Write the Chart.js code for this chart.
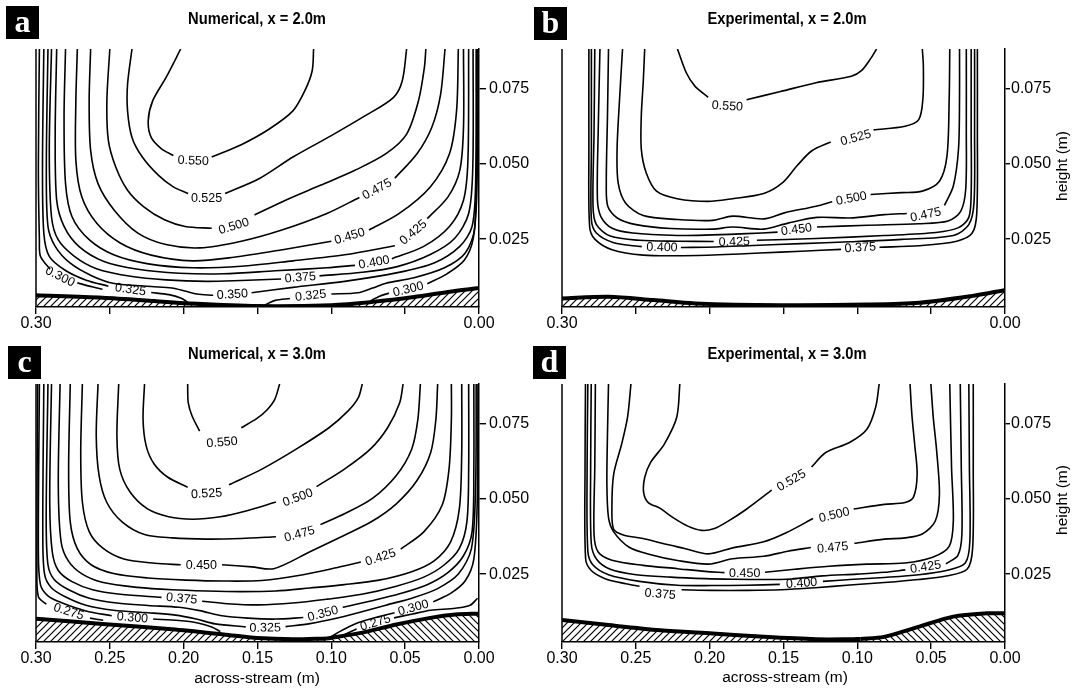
<!DOCTYPE html>
<html lang="en">
<head>
<meta charset="UTF-8">
<title>Streamwise velocity contours</title>
<script src="https://cdn.jsdelivr.net/npm/chart.js"></script>
<style>
  body { margin: 0; background: #fff; }
  #page { position: relative; width: 1081px; height: 691px; overflow: hidden; font-family: "Liberation Sans", Arial, Helvetica, sans-serif; color: #000; }
  canvas { position: absolute; }
  .tag { position: absolute; width: 33px; height: 33px; background: #000; color: #fff; font: bold 32px "Liberation Serif", "Times New Roman", serif; text-align: center; line-height: 31px; }
  .ttl { position: absolute; width: 320px; text-align: center; font-weight: bold; font-size: 16px; line-height: 18px; transform: scaleX(0.92); }
  .xt { position: absolute; width: 240px; text-align: center; font-size: 15.5px; line-height: 18px; }
  .yt { position: absolute; font-size: 15.5px; line-height: 18px; white-space: nowrap; transform: translate(-50%, -50%) rotate(-90deg); }
</style>
</head>
<body>
<div id="page">
  <canvas id="pa" width="540" height="345" style="left:0;top:0"></canvas>
  <canvas id="pb" width="541" height="345" style="left:540px;top:0"></canvas>
  <canvas id="pc" width="540" height="356" style="left:0;top:335px"></canvas>
  <canvas id="pd" width="541" height="356" style="left:540px;top:335px"></canvas>

  <div class="tag" style="left:6px;top:6px">a</div>
  <div class="tag" style="left:534px;top:7px">b</div>
  <div class="tag" style="left:8px;top:346px">c</div>
  <div class="tag" style="left:533px;top:346px">d</div>

  <div class="ttl" style="left:97px;top:10px">Numerical, x = 2.0m</div>
  <div class="ttl" style="left:627px;top:10px">Experimental, x = 2.0m</div>
  <div class="ttl" style="left:97px;top:345px">Numerical, x = 3.0m</div>
  <div class="ttl" style="left:627px;top:345px">Experimental, x = 3.0m</div>

  <div class="xt" style="left:137px;top:669px">across-stream (m)</div>
  <div class="xt" style="left:665px;top:668px">across-stream (m)</div>
  <div class="yt" style="left:1062px;top:166px">height (m)</div>
  <div class="yt" style="left:1062px;top:500px">height (m)</div>
</div>

<script>
const FONT = '"Liberation Sans", Arial, Helvetica, sans-serif';
const L = 'label';   // marks where a contour is broken for its value label

const xTicks = [0, 0.05, 0.10, 0.15, 0.20, 0.25, 0.30];
const yTicks = [0.025, 0.050, 0.075];
const yRange = [0.0025, 0.088];

// contour lines: [level, [[across, height], ...]] in metres
const numX2 = [
  ['0.550', [[0.202,0.088],[0.212,0.0785],[0.221,0.0708],[0.224,0.0642],[0.222,0.0587],[0.215,0.0549],[0.207,0.0527],[0.1935,0.0509,L],[0.181,0.0522],[0.161,0.0563],[0.142,0.0615],[0.126,0.0675],[0.118,0.0741],[0.113,0.0807],[0.112,0.088]]],
  ['0.525', [[0.235,0.088],[0.238,0.0763],[0.238,0.0675],[0.235,0.0587],[0.228,0.0522],[0.217,0.0461],[0.207,0.0423],[0.197,0.0401],[0.1845,0.0385,L],[0.172,0.0401],[0.149,0.045],[0.126,0.0522],[0.100,0.0593],[0.077,0.0659],[0.058,0.0719],[0.052,0.0774],[0.049,0.088]]],
  ['0.500', [[0.250,0.088],[0.252,0.0708],[0.251,0.0577],[0.246,0.0489],[0.238,0.0412],[0.227,0.0357],[0.213,0.0314],[0.199,0.0292],[0.181,0.0286],[0.166,0.0292,L],[0.152,0.033],[0.131,0.0379],[0.107,0.0429],[0.084,0.0478],[0.063,0.0533],[0.049,0.0598],[0.041,0.0708],[0.037,0.0818],[0.036,0.088]]],
  ['0.475', [[0.263,0.088],[0.264,0.0708],[0.263,0.0544],[0.258,0.0434],[0.247,0.0346],[0.231,0.027],[0.212,0.0232],[0.189,0.0221],[0.161,0.0243],[0.133,0.0281],[0.103,0.0335],[0.081,0.0388],[0.069,0.0415,L],[0.057,0.0452],[0.042,0.0533],[0.032,0.062],[0.026,0.073],[0.023,0.088]]],
  ['0.450', [[0.272,0.088],[0.273,0.0708],[0.273,0.0511],[0.269,0.039],[0.259,0.0303],[0.243,0.0237],[0.222,0.0197],[0.194,0.0178],[0.166,0.019],[0.133,0.0215],[0.100,0.0243],[0.0876,0.0259,L],[0.0745,0.028],[0.054,0.0335],[0.033,0.0423],[0.020,0.0533],[0.0152,0.0675],[0.014,0.088]]],
  ['0.425', [[0.280,0.088],[0.281,0.0653],[0.280,0.0434],[0.2756,0.0324],[0.264,0.0248],[0.247,0.0197],[0.224,0.0168],[0.194,0.0155],[0.161,0.016],[0.126,0.0178],[0.091,0.0198],[0.057,0.0228],[0.0444,0.0272,L],[0.035,0.0318],[0.021,0.039],[0.013,0.0478],[0.0105,0.062],[0.0105,0.088]]],
  ['0.400', [[0.286,0.088],[0.287,0.0598],[0.286,0.0379],[0.281,0.0292],[0.271,0.0226],[0.254,0.0176],[0.231,0.015],[0.203,0.0137],[0.173,0.0135],[0.138,0.0145],[0.103,0.0155],[0.084,0.0163],[0.071,0.0172,L],[0.059,0.0185],[0.0374,0.0226],[0.020,0.0292],[0.0105,0.0379],[0.0075,0.0511],[0.007,0.088]]],
  ['0.375', [[0.2895,0.088],[0.291,0.0544],[0.2895,0.0324],[0.285,0.0248],[0.274,0.0193],[0.259,0.0152],[0.236,0.0127],[0.212,0.0115],[0.1845,0.011],[0.161,0.0113],[0.134,0.0118],[0.121,0.0122,L],[0.108,0.0128],[0.079,0.014],[0.056,0.0158],[0.033,0.0199],[0.0164,0.0253],[0.007,0.0335],[0.0042,0.0489],[0.004,0.088]]],
  ['0.350', [[0.2919,0.088],[0.293,0.0489],[0.2919,0.0292],[0.287,0.0226],[0.277,0.0171],[0.262,0.0128],[0.247,0.0103],[0.222,0.0093],[0.208,0.0088],[0.199,0.0078],[0.191,0.0068],[0.180,0.0064],[0.167,0.0066,L],[0.154,0.0072],[0.126,0.009],[0.091,0.011],[0.056,0.0138],[0.0304,0.0171],[0.013,0.0226],[0.0047,0.0292],[0.0023,0.0434],[0.0019,0.088]]],
  ['0.325', [[0.2947,0.088],[0.2956,0.0489],[0.2947,0.027],[0.291,0.0193],[0.280,0.0146],[0.266,0.0114],[0.251,0.0094],[0.236,0.0082,L],[0.222,0.0073],[0.210,0.0066],[0.202,0.0055],[0.197,0.004]]],
  ['0.325', [[0.145,0.0032],[0.138,0.0047],[0.128,0.0053],[0.114,0.0062,L],[0.100,0.0068],[0.082,0.0072],[0.072,0.0088],[0.063,0.0104],[0.044,0.0122],[0.0234,0.0155],[0.0093,0.0204],[0.0028,0.0292],[0.0012,0.088]]],
  ['0.300', [[0.2977,0.088],[0.2984,0.0489],[0.2977,0.0248],[0.297,0.0193],[0.2905,0.015],[0.2837,0.0125,L],[0.272,0.0105],[0.262,0.0092],[0.255,0.0084]]],
  ['0.300', [[0.0736,0.0045],[0.0677,0.006],[0.061,0.0071],[0.0479,0.0083,L],[0.035,0.0102],[0.0217,0.0135],[0.010,0.018],[0.004,0.025],[0.0015,0.04],[0.0005,0.088]]]
];
const bedA = [[0.300,0.0064],[0.255,0.0056],[0.220,0.0045],[0.197,0.0037],[0.150,0.0028],[0.100,0.0031],[0.072,0.0042],[0.044,0.0058],[0.021,0.0075],[0,0.0088]];

const expX2 = [
  ['0.550', [[0.2218,0.088],[0.216,0.0803],[0.210,0.0757],[0.201,0.072],[0.188,0.069,L],[0.175,0.0712],[0.152,0.0739],[0.128,0.0768],[0.104,0.079],[0.097,0.0809],[0.091,0.0848],[0.087,0.088]]],
  ['0.525', [[0.244,0.088],[0.245,0.077],[0.2463,0.0659],[0.2463,0.0548],[0.243,0.047],[0.236,0.0409],[0.222,0.0384],[0.201,0.0375],[0.1845,0.0384],[0.1634,0.0401],[0.1506,0.0437],[0.141,0.0492],[0.131,0.0542],[0.118,0.0572],[0.101,0.0585,L],[0.089,0.0612],[0.0677,0.0624],[0.0584,0.0646],[0.0556,0.0715],[0.0553,0.0826],[0.056,0.088]]],
  ['0.500', [[0.259,0.088],[0.261,0.0715],[0.2627,0.0548],[0.262,0.0437],[0.257,0.037],[0.245,0.0328],[0.2218,0.0315],[0.198,0.0312],[0.1845,0.0326],[0.1634,0.0317],[0.1494,0.0337],[0.128,0.0359],[0.117,0.0374],[0.104,0.0384,L],[0.091,0.0398],[0.070,0.0404],[0.056,0.0409],[0.0444,0.0442],[0.0393,0.0525],[0.0378,0.0715],[0.0374,0.088]]],
  ['0.475', [[0.2685,0.088],[0.2692,0.0659],[0.270,0.0437],[0.269,0.0359],[0.2626,0.032],[0.2498,0.0298],[0.2265,0.0285],[0.198,0.0283],[0.1845,0.029],[0.1634,0.0283],[0.147,0.0303],[0.1273,0.0322],[0.105,0.032],[0.0817,0.0331],[0.0665,0.0335],[0.0537,0.033,L],[0.041,0.0362],[0.035,0.0426],[0.0315,0.0548],[0.0308,0.0715],[0.0308,0.088]]],
  ['0.450', [[0.2743,0.088],[0.2755,0.0604],[0.276,0.0381],[0.2736,0.0324],[0.266,0.0286],[0.252,0.027],[0.2218,0.0262],[0.1984,0.0264],[0.175,0.0268],[0.154,0.0273],[0.1412,0.0281,L],[0.1273,0.029],[0.093,0.0296],[0.0584,0.0301],[0.0385,0.031],[0.030,0.0342],[0.0266,0.0415],[0.0262,0.0604],[0.0262,0.088]]],
  ['0.425', [[0.2778,0.088],[0.2783,0.0604],[0.279,0.0359],[0.2767,0.0298],[0.2673,0.026],[0.2475,0.0246],[0.2218,0.0243],[0.1973,0.0242],[0.1833,0.024,L],[0.168,0.0246],[0.128,0.0252],[0.0817,0.0262],[0.0467,0.0272],[0.0315,0.0288],[0.0245,0.0322],[0.0229,0.0404],[0.0229,0.0604],[0.0229,0.088]]],
  ['0.400', [[0.2801,0.088],[0.2801,0.0548],[0.2801,0.0315],[0.2767,0.027],[0.265,0.0238],[0.246,0.0225],[0.2323,0.0222,L],[0.2195,0.0222],[0.196,0.0224],[0.1705,0.0229],[0.138,0.0235],[0.105,0.0241],[0.070,0.0249],[0.035,0.0262],[0.0245,0.0298],[0.021,0.037],[0.0206,0.0604],[0.0206,0.088]]],
  ['0.375', [[0.2818,0.088],[0.2818,0.0548],[0.2813,0.0292],[0.2778,0.025],[0.2661,0.0215],[0.245,0.0197],[0.2183,0.0195],[0.1938,0.0198],[0.166,0.0204],[0.138,0.021],[0.111,0.0216],[0.098,0.0221,L],[0.085,0.0223],[0.0584,0.0228],[0.0327,0.0243],[0.0222,0.027],[0.0191,0.0337],[0.0187,0.0604],[0.0187,0.088]]]
];
const bedB = [[0.30,0.0053],[0.2685,0.0059],[0.238,0.0048],[0.21,0.0037],[0.152,0.0031],[0.093,0.0033],[0.058,0.0039],[0.023,0.0061],[0,0.0081]];

const numX3 = [
  ['0.550', [[0.1973,0.088],[0.1969,0.0818],[0.1943,0.0774],[0.1892,0.0724],[0.174,0.0686,L],[0.161,0.0735],[0.1506,0.0765],[0.1436,0.0794],[0.1383,0.0829],[0.135,0.088]]],
  ['0.525', [[0.2265,0.088],[0.2275,0.0763],[0.2254,0.0675],[0.220,0.0615],[0.2107,0.0571],[0.1973,0.0538],[0.1845,0.0516,L],[0.1693,0.0546],[0.147,0.0598],[0.1238,0.0664],[0.1016,0.0735],[0.0888,0.079],[0.0818,0.0834],[0.079,0.088]]],
  ['0.500', [[0.244,0.088],[0.2452,0.0708],[0.2433,0.0598],[0.2363,0.0522],[0.2247,0.0467],[0.2102,0.044],[0.1938,0.0432],[0.1752,0.044],[0.1565,0.0461],[0.1375,0.0489],[0.1226,0.0503,L],[0.110,0.054],[0.0911,0.0598],[0.0736,0.0664],[0.0619,0.0735],[0.0537,0.0818],[0.0514,0.088]]],
  ['0.475', [[0.258,0.088],[0.2592,0.0708],[0.2573,0.0577],[0.2522,0.0489],[0.2417,0.0423],[0.2265,0.0381],[0.2078,0.037],[0.1845,0.0366],[0.1611,0.0368],[0.1375,0.0374],[0.1215,0.0382,L],[0.1074,0.0414],[0.0911,0.045],[0.0724,0.05],[0.056,0.0577],[0.0456,0.0664],[0.0414,0.0763],[0.0397,0.088]]],
  ['0.450', [[0.2686,0.088],[0.2697,0.0653],[0.2686,0.0489],[0.2639,0.039],[0.2545,0.0335],[0.2405,0.030],[0.2195,0.0286],[0.202,0.0281],[0.188,0.0278,L],[0.174,0.0281],[0.154,0.0274],[0.139,0.0268],[0.1145,0.0324],[0.0911,0.0379],[0.0724,0.0425],[0.056,0.0483],[0.042,0.056],[0.0327,0.0653],[0.0292,0.0763],[0.028,0.088]]],
  ['0.425', [[0.2768,0.088],[0.2779,0.0598],[0.2768,0.0423],[0.2721,0.0335],[0.2627,0.0281],[0.2475,0.0252],[0.2242,0.0237],[0.1985,0.023],[0.1728,0.0227],[0.1471,0.0229],[0.1191,0.0248],[0.0958,0.0272],[0.080,0.029],[0.0666,0.0305,L],[0.053,0.0333],[0.0374,0.039],[0.025,0.0478],[0.0203,0.0598],[0.0187,0.0763],[0.0187,0.088]]],
  ['0.400', [[0.2837,0.088],[0.2849,0.0544],[0.283,0.0357],[0.2779,0.0292],[0.2686,0.025],[0.2545,0.0222],[0.2312,0.0206],[0.2078,0.0198],[0.1845,0.0194],[0.1611,0.0192],[0.1378,0.0194],[0.1145,0.0204],[0.0911,0.0215],[0.0677,0.023],[0.0456,0.0258],[0.0304,0.0294],[0.0192,0.0357],[0.0133,0.0467],[0.0117,0.0653],[0.0117,0.088]]],
  ['0.375', [[0.2895,0.088],[0.2907,0.0489],[0.289,0.0324],[0.2849,0.0262],[0.2756,0.0225],[0.2616,0.0198],[0.2429,0.0183],[0.215,0.0173],[0.2013,0.0168,L],[0.1875,0.016],[0.1705,0.0152],[0.1495,0.0148],[0.1261,0.0154],[0.1028,0.0167],[0.0794,0.0183],[0.056,0.021],[0.0374,0.024],[0.0234,0.0281],[0.0133,0.0335],[0.0082,0.0423],[0.007,0.0598],[0.007,0.088]]],
  ['0.350', [[0.2919,0.088],[0.2931,0.0434],[0.2919,0.0281],[0.2877,0.0232],[0.2779,0.0198],[0.2639,0.017],[0.2452,0.0154],[0.2242,0.0146],[0.2032,0.014],[0.1892,0.0129],[0.1752,0.0113],[0.1565,0.0104],[0.1378,0.0101],[0.119,0.0106],[0.1056,0.0118,L],[0.0923,0.014],[0.0724,0.0162],[0.0537,0.0185],[0.0351,0.0215],[0.0211,0.0255],[0.0106,0.031],[0.0047,0.039],[0.0035,0.0598],[0.0035,0.088]]],
  ['0.325', [[0.2947,0.088],[0.2954,0.0379],[0.2942,0.025],[0.2896,0.0205],[0.2802,0.0175],[0.2662,0.0147],[0.2475,0.013],[0.2242,0.0122],[0.2055,0.0114],[0.1915,0.0101],[0.1787,0.0085],[0.158,0.0075],[0.1448,0.0071,L],[0.131,0.0076],[0.1145,0.0086],[0.0981,0.0102],[0.0818,0.0122],[0.0631,0.0147],[0.0444,0.0172],[0.028,0.0202],[0.014,0.025],[0.0051,0.0335],[0.0023,0.0544],[0.0019,0.088]]],
  ['0.300', [[0.2977,0.088],[0.2984,0.0324],[0.297,0.0215],[0.2919,0.0178],[0.2826,0.0155],[0.2662,0.0128],[0.2487,0.0112],[0.2347,0.0105,L],[0.2207,0.0101],[0.2032,0.0096],[0.1904,0.0088],[0.181,0.0075],[0.1752,0.006]]],
  ['0.300', [[0.1004,0.0042],[0.0934,0.0062],[0.084,0.0085],[0.0724,0.0103],[0.0572,0.0122],[0.0444,0.0138,L],[0.031,0.0158],[0.0187,0.0188],[0.0093,0.0228],[0.0035,0.030],[0.0012,0.0489],[0.0007,0.088]]],
  ['0.275', [[0.2989,0.088],[0.2994,0.027],[0.2984,0.0175],[0.293,0.015],[0.2779,0.0125,L],[0.2634,0.0104],[0.2545,0.0097]]],
  ['0.275', [[0.091,0.005],[0.0829,0.0068],[0.0701,0.0088,L],[0.0575,0.0105],[0.045,0.0118],[0.0327,0.013],[0.016,0.0137],[0.006,0.0147],[0.001,0.017]]]
];
const bedCLeft = [[0.30,0.0102],[0.255,0.0085],[0.208,0.0067],[0.173,0.005],[0.15,0.0038],[0.126,0.0034],[0.103,0.0037]];
const bedCRight = [[0.103,0.0037],[0.079,0.0056],[0.056,0.0083],[0.033,0.0105],[0.016,0.0116],[0,0.0119]];

const expX3 = [
  ['0.525', [[0.2202,0.088],[0.2223,0.077],[0.2307,0.0681],[0.240,0.062],[0.244,0.057],[0.2447,0.052],[0.2416,0.0487],[0.2335,0.0468],[0.2253,0.0439],[0.2148,0.0409],[0.2055,0.0395],[0.1973,0.040],[0.188,0.0424],[0.1751,0.0465],[0.158,0.0528],[0.1445,0.056,L],[0.131,0.0605],[0.1214,0.0653],[0.105,0.0687],[0.0934,0.0731],[0.0876,0.0803],[0.0852,0.088]]],
  ['0.500', [[0.2533,0.088],[0.2556,0.077],[0.2596,0.0681],[0.265,0.0581],[0.2662,0.047],[0.265,0.0398],[0.258,0.0379],[0.2451,0.0368],[0.2323,0.0352],[0.2171,0.0335],[0.2008,0.0317],[0.1844,0.0337],[0.1634,0.0357],[0.1482,0.0387],[0.130,0.0434],[0.1156,0.0445,L],[0.1025,0.0466],[0.0817,0.0481],[0.0677,0.0487],[0.0619,0.0506],[0.0595,0.0581],[0.0612,0.0681],[0.0631,0.0781],[0.0643,0.088]]],
  ['0.475', [[0.2685,0.088],[0.2692,0.0715],[0.2696,0.0548],[0.2685,0.0437],[0.265,0.039],[0.2545,0.0339],[0.2405,0.0315],[0.2218,0.0295],[0.2008,0.0283],[0.1844,0.0301],[0.1634,0.0309],[0.147,0.0326],[0.1315,0.0338],[0.1167,0.0337,L],[0.102,0.0352],[0.0817,0.0366],[0.0677,0.037],[0.056,0.0383],[0.0472,0.0426],[0.0444,0.0515],[0.0463,0.0659],[0.0486,0.077],[0.0502,0.088]]],
  ['0.450', [[0.2774,0.088],[0.2778,0.0604],[0.2783,0.0381],[0.2755,0.0323],[0.2662,0.0296],[0.2451,0.0279],[0.2218,0.0268],[0.2031,0.0259],[0.190,0.0255],[0.1763,0.0252,L],[0.1625,0.0256],[0.1424,0.0266],[0.1191,0.0276],[0.0934,0.0283],[0.0677,0.0287],[0.049,0.0306],[0.0378,0.0342],[0.035,0.0426],[0.0362,0.0604],[0.0374,0.088]]],
  ['0.425', [[0.2802,0.088],[0.2806,0.0604],[0.2802,0.0353],[0.2767,0.030],[0.2673,0.0266],[0.2498,0.0248],[0.2265,0.024],[0.2031,0.0235],[0.1844,0.0233],[0.1634,0.0232],[0.1448,0.0234],[0.1237,0.0244],[0.1004,0.025],[0.0817,0.0256],[0.0675,0.0264],[0.0537,0.0273,L],[0.040,0.0284],[0.0319,0.0312],[0.0292,0.0381],[0.0296,0.0604],[0.0303,0.088]]],
  ['0.400', [[0.2825,0.088],[0.283,0.0604],[0.2825,0.0326],[0.279,0.028],[0.2685,0.0248],[0.2475,0.0226],[0.2218,0.0213],[0.1984,0.0212],[0.175,0.0213],[0.1525,0.0216],[0.1377,0.0219,L],[0.1233,0.0226],[0.105,0.0232],[0.0817,0.0239],[0.0584,0.0248],[0.0397,0.0262],[0.0269,0.0287],[0.0238,0.0359],[0.0241,0.0604],[0.0245,0.088]]],
  ['0.375', [[0.2841,0.088],[0.2844,0.0604],[0.284,0.0301],[0.2802,0.0262],[0.2708,0.0235],[0.2568,0.0218],[0.2475,0.021],[0.2335,0.0183,L],[0.219,0.0198],[0.1984,0.0196],[0.175,0.0196],[0.1518,0.0198],[0.1284,0.0205],[0.105,0.0214],[0.0817,0.0222],[0.0584,0.0232],[0.0397,0.0244],[0.0257,0.0266],[0.0219,0.0337],[0.0215,0.0604],[0.0215,0.088]]]
];
const bedDLeft = [[0.30,0.0098],[0.2685,0.0081],[0.2335,0.0064],[0.198,0.0053],[0.163,0.0042],[0.128,0.0034],[0.105,0.0034],[0.098,0.0035]];
const bedDRight = [[0.098,0.0035],[0.082,0.0042],[0.058,0.0076],[0.035,0.0109],[0.012,0.012],[0,0.012]];

// diagonal hatching for the bed; dir 1 = "////", -1 = "\\\\"
function hatch(dir) {
  const c = document.createElement('canvas');
  c.width = c.height = 7;
  const g = c.getContext('2d');
  g.strokeStyle = '#000';
  g.lineWidth = 1.2;
  g.beginPath();
  if (dir > 0) {
    g.moveTo(-1, 8); g.lineTo(8, -1);
    g.moveTo(-1, 1); g.lineTo(1, -1);
    g.moveTo(6, 8); g.lineTo(8, 6);
  } else {
    g.moveTo(-1, -1); g.lineTo(8, 8);
    g.moveTo(6, -1); g.lineTo(8, 1);
    g.moveTo(-1, 6); g.lineTo(1, 8);
  }
  g.stroke();
  return g.createPattern(c, 'repeat');
}

function drawPanel(id, contours, beds, o) {
  const canvas = document.getElementById(id);
  const W = canvas.width, H = canvas.height;
  const datasets = [];
  const labels = [];

  // bed first so it is painted over the contour ends
  beds.forEach(([pts, dir]) => {
    datasets.push({
      data: pts.map(p => ({ x: p[0], y: p[1] })),
      showLine: true, borderColor: '#000', borderWidth: 4,
      backgroundColor: hatch(dir), fill: 'start',
      pointRadius: 0, tension: 0.3
    });
  });

  contours.forEach(([level, pts]) => {
    let seg = [];
    const flush = () => {
      if (seg.length > 1) {
        datasets.push({
          data: seg, showLine: true, borderColor: '#000', borderWidth: 1.6,
          pointRadius: 0, tension: 0.3, fill: false
        });
      }
      seg = [];
    };
    pts.forEach((p, i) => {
      if (p[2] === L) {
        flush();
        labels.push({ text: level, at: p, prev: pts[i - 1], next: pts[i + 1] });
      } else {
        seg.push({ x: p[0], y: p[1] });
      }
    });
    flush();
  });

  const decorate = {
    id: 'decorate',
    afterDatasetsDraw(chart) {
      const { ctx, chartArea: a } = chart;
      const sx = chart.scales.x, sy = chart.scales.y;
      const px = p => [sx.getPixelForValue(p[0]), sy.getPixelForValue(p[1])];
      ctx.save();
      ctx.font = '12.5px ' + FONT;
      ctx.fillStyle = '#000';
      ctx.textAlign = 'center';
      ctx.textBaseline = 'middle';
      labels.forEach(l => {
        const [cx, cy] = px(l.at), [ax, ay] = px(l.prev), [bx, by] = px(l.next);
        let ang = Math.atan2(by - ay, bx - ax);
        if (ang > Math.PI / 2) ang -= Math.PI;
        else if (ang < -Math.PI / 2) ang += Math.PI;
        ctx.save();
        ctx.translate(cx, cy);
        ctx.rotate(ang);
        ctx.fillText(l.text, 0, 0);
        ctx.restore();
      });
      // left wall of the section
      ctx.strokeStyle = '#000';
      ctx.lineWidth = 1.5;
      ctx.beginPath();
      ctx.moveTo(a.left, a.top);
      ctx.lineTo(a.left, a.bottom);
      ctx.stroke();
      ctx.restore();
    }
  };

  new Chart(canvas, {
    type: 'scatter',
    data: { datasets },
    plugins: [decorate],
    options: {
      responsive: false,
      animation: false,
      events: [],
      layout: { padding: { left: o.left, top: 49, right: 0, bottom: 0 } },
      plugins: { legend: { display: false }, tooltip: { enabled: false } },
      scales: {
        x: {
          type: 'linear', min: 0, max: 0.30, reverse: true,
          afterBuildTicks: s => { s.ticks = xTicks.map(v => ({ value: v })); },
          afterFit: s => { s.height = H - 307; },
          border: { display: true, color: '#000', width: 1.5 },
          grid: { drawOnChartArea: false, drawTicks: true, tickLength: 7, color: '#000', lineWidth: 1.4 },
          ticks: {
            autoSkip: false, maxRotation: 0, padding: 0, color: '#000',
            font: { size: 16, family: FONT },
            callback: v => (o.allX || v === 0 || v === 0.3) ? v.toFixed(2) : ''
          }
        },
        y: {
          type: 'linear', position: 'right', min: yRange[0], max: yRange[1],
          afterBuildTicks: s => { s.ticks = yTicks.map(v => ({ value: v })); },
          afterFit: s => { s.width = W - o.left - 443; },
          border: { display: true, color: '#000', width: 1.5 },
          grid: { drawOnChartArea: false, drawTicks: true, tickLength: o.tick[0], color: '#000', lineWidth: 1.4 },
          ticks: {
            padding: o.tick[1], color: '#000',
            font: { size: 16, family: FONT },
            callback: v => v.toFixed(3)
          }
        }
      }
    }
  });
}

drawPanel('pa', numX2, [[bedA, 1]], { left: 36, allX: false, tick: [7, 3] });
drawPanel('pb', expX2, [[bedB, 1]], { left: 22, allX: false, tick: [5, 1] });
drawPanel('pc', numX3, [[bedCLeft, 1], [bedCRight, -1]], { left: 36, allX: true, tick: [7, 3] });
drawPanel('pd', expX3, [[bedDLeft, 1], [bedDRight, -1]], { left: 22, allX: true, tick: [5, 1] });
</script>
</body>
</html>
